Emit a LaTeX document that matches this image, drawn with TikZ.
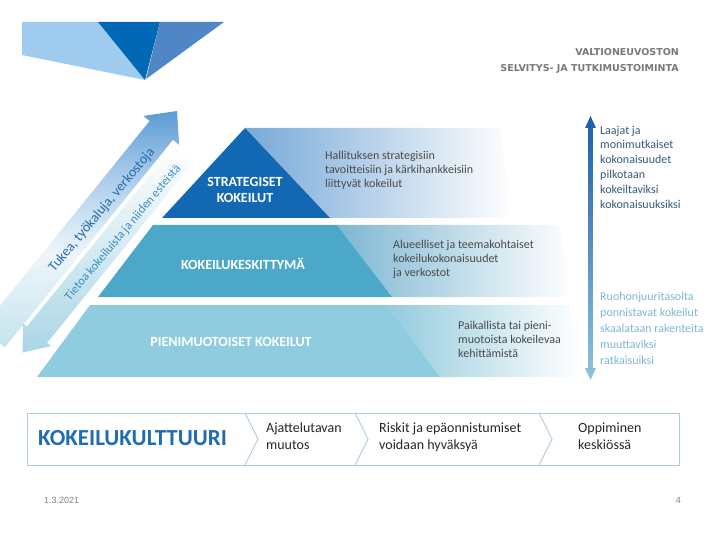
\documentclass[tikz,border=0pt]{standalone}
\usepackage{fontspec}
\setmainfont{Carlito}
\newfontfamily\footfont{Liberation Sans}
\newfontfamily\headfont{DejaVu Sans}
\usetikzlibrary{positioning}

\definecolor{logolight}{HTML}{9FCBEE}
\definecolor{logodark}{HTML}{0068B4}
\definecolor{logomid}{HTML}{4F87C6}
\definecolor{headgray}{HTML}{77787B}
\definecolor{stratblue}{HTML}{1268B3}
\definecolor{keskteal}{HTML}{4BA8C8}
\definecolor{pienteal}{HTML}{8FCCE0}
\definecolor{fadeone}{HTML}{78A9D8}
\definecolor{fadetwo}{HTML}{7DB7D2}
\definecolor{fadethree}{HTML}{93CBDD}
\definecolor{bodygray}{HTML}{4A4A4A}
\definecolor{tktop}{HTML}{5B9BD5}
\definecolor{tkmid}{HTML}{A5CAEA}
\definecolor{tkpale}{HTML}{EEF5FB}
\definecolor{tkbot}{HTML}{C6E4EE}
\definecolor{tietobot}{HTML}{A9D6E5}
\definecolor{tietoblue}{HTML}{3A8CC4}
\definecolor{tukeablue}{HTML}{2A69AD}
\definecolor{updark}{HTML}{1D5DAD}
\definecolor{downlight}{HTML}{8EC5DB}
\definecolor{laajatext}{HTML}{36587A}
\definecolor{ruohotext}{HTML}{7DB6D1}
\definecolor{barblue}{HTML}{A9CEDD}
\definecolor{kultblue}{HTML}{1F6DB2}
\definecolor{bartextc}{HTML}{262626}
\definecolor{footgray}{HTML}{808080}

\pgfdeclareverticalshading{tukeashade}{100bp}{color(0bp)=(tkbot); color(25bp)=(tkbot); color(45bp)=(tkpale); color(62bp)=(tkmid); color(75bp)=(tktop); color(100bp)=(tktop)}

\tikzset{
  bandtitle/.style={font=\bfseries\fontsize{14}{15.5}\selectfont, text=white, align=center, inner sep=0pt},
  sidetext/.style={font=\fontsize{12}{14}\selectfont, text=bodygray, align=left, anchor=north west, inner sep=0pt},
  coltext/.style={font=\fontsize{12}{14.8}\selectfont, align=left, anchor=north west, inner sep=0pt},
  bartext/.style={font=\fontsize{14}{16.5}\selectfont, text=bartextc, align=left, anchor=north west, inner sep=0pt},
  arrowtext/.style={rotate=50, inner sep=0pt},
  barframe/.style={draw=barblue, line width=0.9pt},
  foot/.style={font=\footfont\fontsize{9}{10}\selectfont, text=footgray, inner sep=0pt}
}

\begin{document}
\begin{tikzpicture}[x=1pt,y=-1pt]
  \useasboundingbox (0,0) rectangle (720,540);
  \clip (0,0) rectangle (720,540);

  % logo
  \fill[logolight] (22,22) -- (98,22) -- (145,80) -- (22,55) -- cycle;
  \fill[logodark] (98,22) -- (160,22) -- (145,80) -- cycle;
  \fill[logomid] (160,22) -- (224,22) -- (146,79) -- cycle;
  \node[font=\headfont\bfseries\fontsize{9.5}{16}\selectfont, text=headgray, align=right,
        anchor=north east, inner sep=0pt] (vnk) at (679,48.5)
        {VALTIONEUVOSTON\\SELVITYS- JA TUTKIMUSTOIMINTA};

  % pyramid
  \shade[left color=fadeone, right color=white] (245,128) -- (500,128) -- (512,218) -- (330,218) -- cycle;
  \fill[stratblue] (245,128) -- (330,218) -- (162,218) -- cycle;
  \node[bandtitle] (strat) at (245,190) {STRATEGISET\\KOKEILUT};
  \node[sidetext] (strattxt) at (325,150.7)
        {Hallituksen strategisiin\\tavoitteisiin ja kärkihankkeisiin\\liittyvät kokeilut};

  \shade[left color=fadetwo, right color=white] (337,225) -- (560,225) -- (572,297) -- (392,297) -- cycle;
  \fill[keskteal] (153,225) -- (337,225) -- (392,297) -- (98,297) -- cycle;
  \node[bandtitle] (keskit) at (243,264) {KOKEILUKESKITTYMÄ};
  \node[sidetext] (keskittxt) at (393,239.7)
        {Alueelliset ja teemakohtaiset\\kokeilukokonaisuudet\\ja verkostot};

  \shade[left color=fadethree, right color=white] (387,305) -- (570,305) -- (580,377) -- (440,377) -- cycle;
  \fill[pienteal] (90,305) -- (387,305) -- (440,377) -- (37,377) -- cycle;
  \node[bandtitle] (pieni) at (231,342) {PIENIMUOTOISET KOKEILUT};
  \node[sidetext] (pienitxt) at (458,320.7)
        {Paikallista tai pieni-\\muotoista kokeilevaa\\kehittämistä};

  % diagonal double arrow
  \begin{scope}[shift={(177,111)}, x={(-0.6293pt,-0.7771pt)}, y={(0.7771pt,-0.6293pt)}]
    \shade[shading=tukeashade] (0,0) -- (25,23) -- (25,15) -- (292,15) -- (292,-15)
          -- (25,-15) -- (25,-23) -- cycle;
    \shade[top color=white, bottom color=tietobot] (30,19) -- (30,45) -- (262,45) -- (262,50)
          -- (285,32) -- (262,14) -- (262,19) -- cycle;
  \end{scope}
  \node[arrowtext, font=\fontsize{14}{16}\selectfont, text=tukeablue] (tukea) at (102,210)
        {Tukea, työkaluja, verkostoja};
  \node[arrowtext, font=\fontsize{12.3}{14}\selectfont, text=tietoblue] (tietoa) at (123,233)
        {Tietoa kokeiluista ja niiden esteistä};

  % vertical arrow and its texts
  \shade[top color=updark, bottom color=downlight] (590.5,116) -- (596,128) -- (592.8,128)
        -- (592.8,368) -- (596,368) -- (590.5,380) -- (585,368) -- (588.2,368)
        -- (588.2,128) -- (585,128) -- cycle;
  \node[coltext, text=laajatext] (laajat) at (600,125.7)
        {Laajat ja\\monimutkaiset\\kokonaisuudet\\pilkotaan\\kokeiltaviksi\\kokonaisuuksiksi};
  \node[coltext, text=ruohotext, font=\fontsize{12}{16}\selectfont] (ruoho) at (600,291.7)
        {Ruohonjuuritasolta\\ponnistavat kokeilut\\skaalataan rakenteita\\muuttaviksi\\ratkaisuiksi};

  % bottom bar
  \draw[barframe] (27,413) rectangle (679,465);
  \foreach \cx in {245,355,539}
    \draw[barframe] (\cx,413) -- (\cx+13,439) -- (\cx,465);
  \node[font=\bfseries\fontsize{23}{27}\selectfont, text=kultblue, anchor=west, inner sep=0pt] (kult) at (38,438)
        {KOKEILUKULTTUURI};
  \node[bartext] (ajatt) at (266,422.7) {Ajattelutavan\\muutos};
  \node[bartext] (riskit) at (379,422.7) {Riskit ja epäonnistumiset\\voidaan hyväksyä};
  \node[bartext] (oppim) at (578,422.7) {Oppiminen\\keskiössä};

  % footer
  \node[foot, anchor=west] (pvm) at (44,500) {1.3.2021};
  \node[foot, anchor=east] (sivu) at (681,500) {4};
\end{tikzpicture}
\end{document}
